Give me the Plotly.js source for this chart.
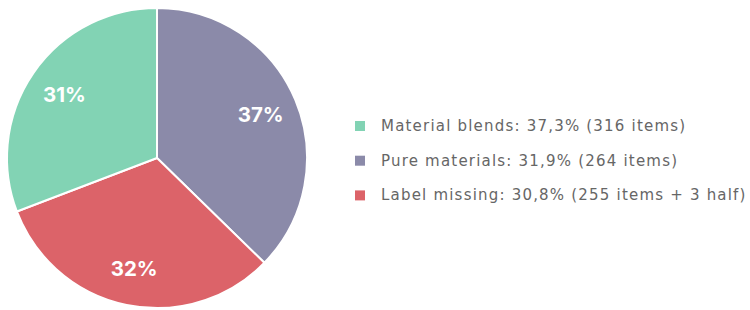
<!DOCTYPE html>
<html>
<head>
<meta charset="utf-8">
<script src="https://cdn.plot.ly/plotly-3.0.1.min.js"></script>
<style>
html,body{margin:0;padding:0;background:#fff;}
#chart{width:750px;height:310px;}
#chart .annotation-text{letter-spacing:1.2px;}
</style>
</head>
<body>
<div id="chart"></div>
<script>
// Slices as drawn, clockwise from 12 o'clock
const sliceNames = ["Purple slice", "Red slice", "Green slice"];
const sliceValues = [37.3, 31.9, 30.8];
const sliceColors = ["#8b8aa9", "#dc6369", "#82d3b4"];

// Legend entries as shown in the reference
const legendLabels = [
  "Material blends: 37,3% (316 items)",
  "Pure materials: 31,9% (264 items)",
  "Label missing: 30,8% (255 items + 3 half)"
];
const legendColors = ["#82d3b4", "#8b8aa9", "#dc6369"];

const W = 750, H = 310;
const dom = {x: [7 / W, 307 / W], y: [2 / H, 302 / H]};

const pieTrace = {
  type: "pie",
  labels: sliceNames,
  values: sliceValues,
  sort: false,
  direction: "clockwise",
  rotation: 0,
  marker: {colors: sliceColors, line: {color: "#ffffff", width: 2}},
  textinfo: "none",
  hoverinfo: "label+percent",
  domain: dom,
  showlegend: false
};

// transparent ring that only carries the percentage labels further out
const labelTrace = {
  type: "pie",
  labels: sliceNames,
  values: sliceValues,
  sort: false,
  direction: "clockwise",
  rotation: 0,
  hole: 0.5,
  marker: {colors: sliceValues.map(() => "rgba(0,0,0,0)"), line: {width: 0}},
  texttemplate: "%{percent:.0%}",
  textposition: "inside",
  insidetextorientation: "horizontal",
  textfont: {family: "Inter, 'Open Sans', sans-serif", size: 20.5, color: "#ffffff", weight: 700},
  hoverinfo: "skip",
  domain: dom,
  showlegend: false
};

const shapes = [], annotations = [];
const legX = 355, legY0 = 126, legStep = 34.7, sq = 10;
legendLabels.forEach((t, i) => {
  const cy = legY0 + i * legStep;
  shapes.push({
    type: "rect", xref: "paper", yref: "paper",
    x0: legX / W, x1: (legX + sq) / W,
    y0: 1 - (cy + sq / 2) / H, y1: 1 - (cy - sq / 2) / H,
    fillcolor: legendColors[i], line: {width: 0}
  });
  annotations.push({
    xref: "paper", yref: "paper", x: 379 / W, y: 1 - cy / H,
    xanchor: "left", yanchor: "middle", align: "left", showarrow: false,
    text: t, font: {family: "'DejaVu Sans', sans-serif", size: 15, color: "#666666"}
  });
});

Plotly.newPlot("chart", [pieTrace, labelTrace], {
  width: W, height: H,
  margin: {l: 0, r: 0, t: 0, b: 0},
  paper_bgcolor: "#ffffff",
  shapes: shapes,
  annotations: annotations
}, {displayModeBar: false, staticPlot: true});
</script>
</body>
</html>
